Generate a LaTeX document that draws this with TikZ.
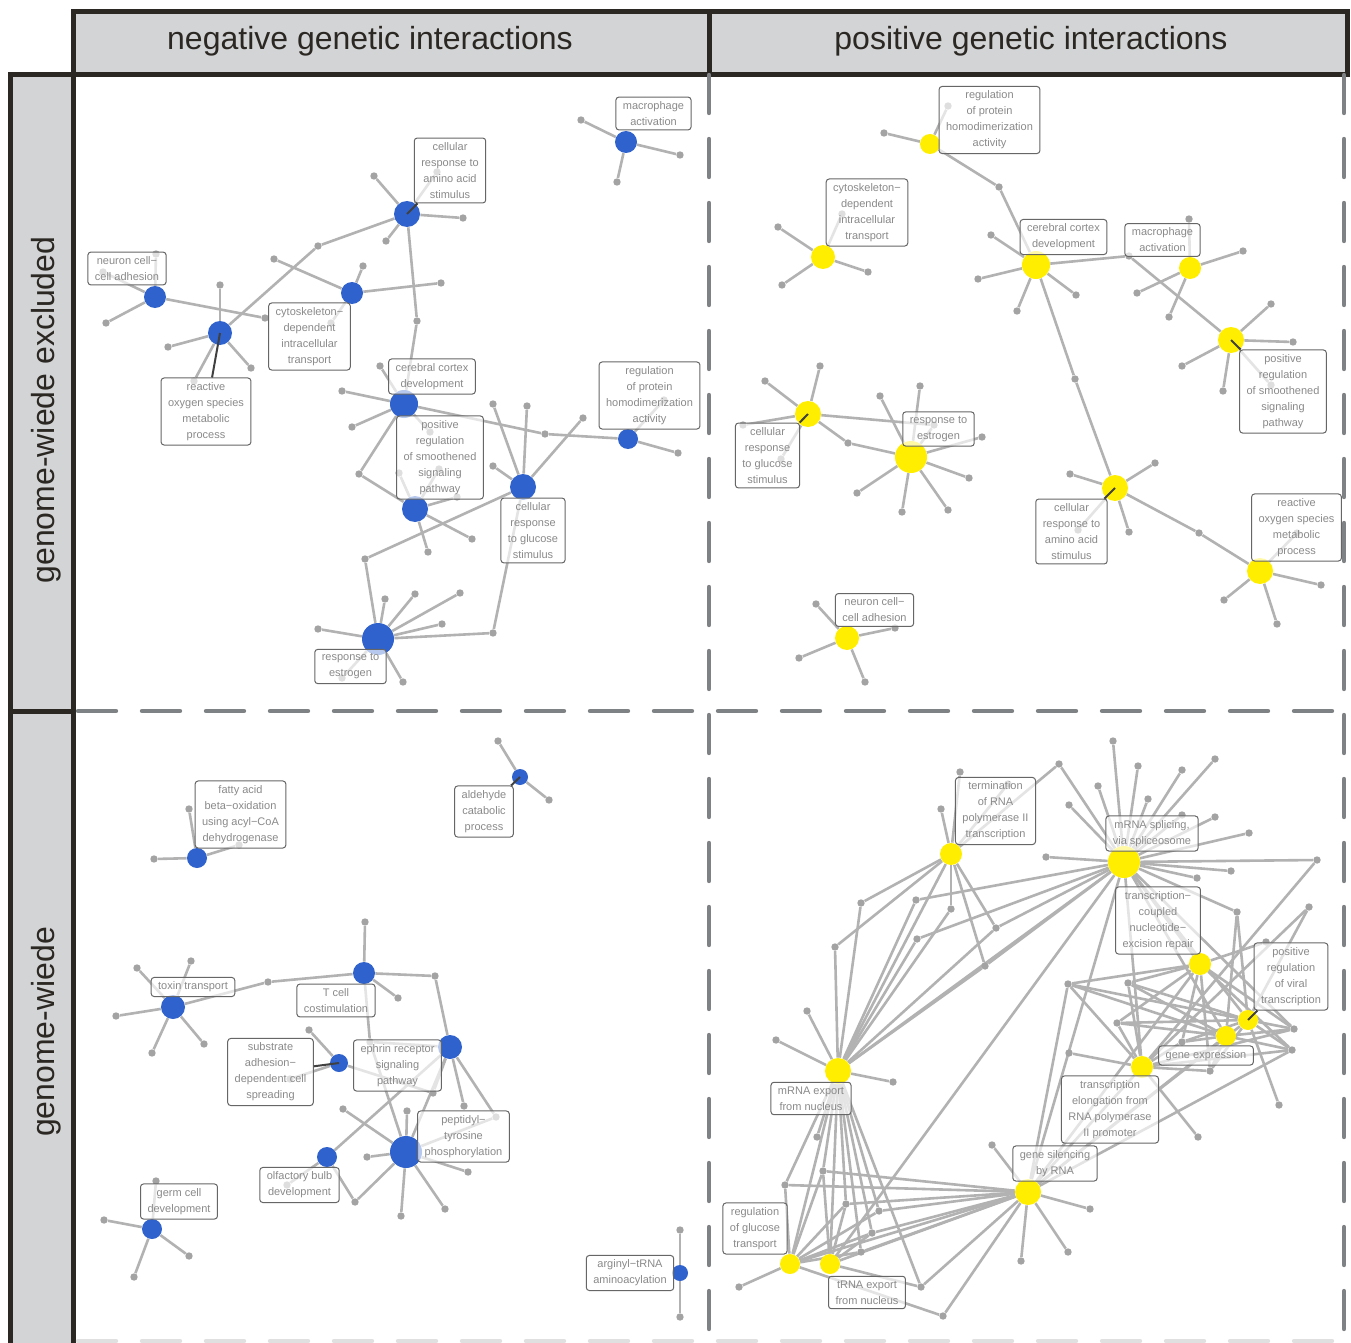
\documentclass[tikz,border=0pt]{standalone}
\usepackage{fontspec}
\setmainfont{Liberation Sans}
\usetikzlibrary{backgrounds}
\definecolor{goBlue}{HTML}{2F62CC}
\definecolor{goYellow}{HTML}{FFEE00}
\definecolor{goDot}{HTML}{A3A3A3}
\definecolor{goEdge}{HTML}{B2B2B2}
\definecolor{goText}{HTML}{8A8A8A}
\definecolor{goFrame}{HTML}{2B2722}
\definecolor{goStrip}{HTML}{D3D4D6}
\definecolor{goDash}{HTML}{7E8285}
\tikzset{
    neg hub/.style={circle, fill=goBlue, inner sep=0pt},
    pos hub/.style={circle, fill=goYellow, inner sep=0pt},
    term dot/.style={circle, fill=goDot, inner sep=0pt, minimum size=3.7pt},
    term edge/.style={draw=goEdge, line width=1.3pt},
    leader/.style={draw=black!75, line width=1pt},
    go label/.style={rectangle, rounded corners=1.5pt, draw=black!60, line width=0.5pt, fill=white, fill opacity=0.65, text opacity=1, text=goText, align=center, font=\fontsize{5.5}{8}\selectfont, inner xsep=3.5pt, inner ysep=2.2pt},
    strip/.style={draw=goFrame, line width=2.5pt, fill=goStrip},
    strip text/.style={text=goFrame, font=\fontsize{16}{18}\selectfont},
    panel dash/.style={draw=goDash, line width=2.2pt, line cap=round, dash pattern=on 19pt off 13pt},
}
% hub with its own end terms
\newcommand\termspokes[2]{%
    \foreach \sx/\sy [count=\si] in {#2} {
        \node[term dot] (#1-\si) at (\sx,\sy) {};
        \begin{scope}[on background layer]
            \draw[term edge] (#1) -- (#1-\si);
        \end{scope}
    }}
% term shared by several hubs
\newcommand\termlinks[2]{%
    \begin{scope}[on background layer]
        \foreach \tn in {#2} \draw[term edge] (#1) -- (\tn);
    \end{scope}}

\begin{document}
\begin{tikzpicture}[x=0.5pt, y=-0.5pt]
    \useasboundingbox (0,0) rectangle (1351,1343);
    \begin{scope}[on background layer]
        \fill[white] (0,0) rectangle (1351,1343);
    \end{scope}

    % strips
    \draw[strip] (73,12) rectangle (709,75);
    \draw[strip] (709,12) rectangle (1347,75);
    \draw[strip] (10,75) rectangle (73,711);
    \draw[strip] (10,711) rectangle (73,1365);
    \node[strip text] (hNeg) at (370,41) {negative genetic interactions};
    \node[strip text] (hPos) at (1031,41) {positive genetic interactions};
    \node[strip text, rotate=90] (hExcl) at (46,410) {genome-wiede excluded};
    \node[strip text, rotate=90] (hAll) at (46,1032) {genome-wiede};

    % panel lines
    \draw[panel dash] (709,75) -- (709,1343);
    \draw[panel dash] (1344,75) -- (1344,1343);
    \draw[panel dash] (78,711) -- (1347,711);
    \draw[panel dash, draw=black!12] (78,1341) -- (1344,1341);

    % ---- negative, genome-wiede excluded ----
    \node[neg hub, minimum size=13pt] (nAmino) at (407,214) {};
    \termspokes{nAmino}{374/176, 463/218, 386/241, 437/172}
    \node[neg hub, minimum size=11pt] (nNeuron) at (155,297) {};
    \termspokes{nNeuron}{106/323, 156/254, 103/272, 265/318}
    \node[neg hub, minimum size=12pt] (nROS) at (220,333) {};
    \termspokes{nROS}{220/285, 168/347, 251/368, 194/381}
    \node[neg hub, minimum size=11pt] (nCyto) at (352,293) {};
    \termspokes{nCyto}{363/266, 441/283, 274/259, 331/323}
    \node[neg hub, minimum size=11pt] (nMacro) at (626,142) {};
    \termspokes{nMacro}{581/120, 680/155, 617/182}
    \node[neg hub, minimum size=14pt] (nCortex) at (404,404) {};
    \termspokes{nCortex}{380/366, 342/391, 352/427, 430/432}
    \node[neg hub, minimum size=13pt] (nSmooth) at (415,509) {};
    \termspokes{nSmooth}{428/552, 472/539, 399/473, 439/469, 457/497}
    \node[neg hub, minimum size=10pt] (nDimer) at (628,439) {};
    \termspokes{nDimer}{678/453, 664/400}
    \node[neg hub, minimum size=13pt] (nGlucose) at (523,487) {};
    \termspokes{nGlucose}{493/404, 527/406, 583/418, 493/466}
    \node[neg hub, minimum size=16pt] (nEstrogen) at (378,639) {};
    \termspokes{nEstrogen}{318/629, 385/599, 415/594, 460/593, 442/624, 403/682, 342/678}
    \node[term dot] (nLink1) at (318,246) {};
    \termlinks{nLink1}{nAmino,nROS}
    \node[term dot] (nLink2) at (417,321) {};
    \termlinks{nLink2}{nAmino,nCortex}
    \node[term dot] (nLink3) at (545,434) {};
    \termlinks{nLink3}{nCortex,nDimer}
    \node[term dot] (nLink4) at (359,474) {};
    \termlinks{nLink4}{nCortex,nSmooth}
    \node[term dot] (nLink5) at (365,559) {};
    \termlinks{nLink5}{nGlucose,nEstrogen}
    \node[term dot] (nLink6) at (493,633) {};
    \termlinks{nLink6}{nGlucose,nEstrogen}

    \node[go label] (nAminoL) at (450,170.5) {cellular\\response to\\amino acid\\stimulus};
    \node[go label] (nNeuronL) at (127,268.5) {neuron cell−\\cell adhesion};
    \node[go label] (nROSL) at (206,411.5) {reactive\\oxygen species\\metabolic\\process};
    \node[go label] (nCytoL) at (309.5,336.5) {cytoskeleton−\\dependent\\intracellular\\transport};
    \node[go label] (nMacroL) at (653.5,113.5) {macrophage\\activation};
    \node[go label] (nCortexL) at (432,376.5) {cerebral cortex\\development};
    \node[go label] (nSmoothL) at (440,457.5) {positive\\regulation\\of smoothened\\signaling\\pathway};
    \node[go label] (nGlucoseL) at (533,530.5) {cellular\\response\\to glucose\\stimulus};
    \node[go label] (nDimerL) at (649.5,395.5) {regulation\\of protein\\homodimerization\\activity};
    \node[go label] (nEstrogenL) at (350.5,666.5) {response to\\estrogen};
    \draw[leader] (nAmino.center) -- (nAminoL);
    \draw[leader] (nROS.center) -- (nROSL);

    % ---- positive, genome-wiede excluded ----
    \node[pos hub, minimum size=10pt] (pDimer) at (930,144) {};
    \termspokes{pDimer}{884/133, 948/106}
    \node[pos hub, minimum size=12pt] (pCyto) at (823,257) {};
    \termspokes{pCyto}{778/227, 782/285, 868/272, 842/214}
    \node[pos hub, minimum size=14pt] (pCortex) at (1036,265) {};
    \termspokes{pCortex}{991/235, 978/279, 1017/311, 1076/295}
    \node[pos hub, minimum size=11pt] (pMacro) at (1190,268) {};
    \termspokes{pMacro}{1189/219, 1243/251, 1137/293, 1169/317}
    \node[pos hub, minimum size=13pt] (pSmooth) at (1231,340) {};
    \termspokes{pSmooth}{1271/304, 1293/342, 1182/366, 1223/391, 1271/385}
    \node[pos hub, minimum size=13pt] (pGlucose) at (808,414) {};
    \termspokes{pGlucose}{820/366, 765/381, 743/425, 781/459}
    \node[pos hub, minimum size=16pt] (pEstrogen) at (911,457) {};
    \termspokes{pEstrogen}{880/396, 920/386, 982/437, 969/478, 948/510, 902/512, 857/493}
    \node[pos hub, minimum size=13pt] (pAmino) at (1115,488) {};
    \termspokes{pAmino}{1070/474, 1155/463, 1129/532, 1078/530}
    \node[pos hub, minimum size=13pt] (pROS) at (1260,571) {};
    \termspokes{pROS}{1321/585, 1277/624, 1224/600, 1297/533}
    \node[pos hub, minimum size=12pt] (pNeuron) at (847,638) {};
    \termspokes{pNeuron}{816/604, 799/658, 865/682, 895/628}
    \node[term dot] (pLink1) at (999,187) {};
    \termlinks{pLink1}{pDimer,pCortex}
    \node[term dot] (pLink2) at (1129,256) {};
    \termlinks{pLink2}{pCortex,pSmooth}
    \node[term dot] (pLink3) at (1075,379) {};
    \termlinks{pLink3}{pCortex,pAmino}
    \node[term dot] (pLink4) at (934,425) {};
    \termlinks{pLink4}{pGlucose,pEstrogen}
    \node[term dot] (pLink5) at (848,443) {};
    \termlinks{pLink5}{pGlucose,pEstrogen}
    \node[term dot] (pLink6) at (1199,533) {};
    \termlinks{pLink6}{pAmino,pROS}

    \node[go label] (pDimerL) at (989.5,120) {regulation\\of protein\\homodimerization\\activity};
    \node[go label] (pCytoL) at (867,212.5) {cytoskeleton−\\dependent\\intracellular\\transport};
    \node[go label] (pCortexL) at (1063.5,237) {cerebral cortex\\development};
    \node[go label] (pMacroL) at (1162.5,240) {macrophage\\activation};
    \node[go label] (pSmoothL) at (1283,391.5) {positive\\regulation\\of smoothened\\signaling\\pathway};
    \node[go label] (pGlucoseL) at (767.5,455.5) {cellular\\response\\to glucose\\stimulus};
    \node[go label] (pEstrogenL) at (938.5,429) {response to\\estrogen};
    \node[go label] (pAminoL) at (1071.5,531.5) {cellular\\response to\\amino acid\\stimulus};
    \node[go label] (pROSL) at (1296.5,527.5) {reactive\\oxygen species\\metabolic\\process};
    \node[go label] (pNeuronL) at (874.5,610) {neuron cell−\\cell adhesion};
    \draw[leader] (pSmooth.center) -- (pSmoothL);
    \draw[leader] (pGlucose.center) -- (pGlucoseL);
    \draw[leader] (pAmino.center) -- (pAminoL);

    % ---- negative, genome-wiede ----
    \node[neg hub, minimum size=10pt] (wnFatty) at (197,858) {};
    \termspokes{wnFatty}{154/859, 189/809, 239/845}
    \node[neg hub, minimum size=8pt] (wnAldehyde) at (520,777) {};
    \termspokes{wnAldehyde}{498/741, 549/800}
    \node[neg hub, minimum size=12pt] (wnToxin) at (173,1007) {};
    \termspokes{wnToxin}{137/968, 191/961, 116/1016, 204/1044, 152/1053}
    \node[neg hub, minimum size=11pt] (wnTcell) at (364,973) {};
    \termspokes{wnTcell}{365/922, 398/998}
    \node[neg hub, minimum size=12pt] (wnEphrin) at (450,1047) {};
    \termspokes{wnEphrin}{464/1106}
    \node[neg hub, minimum size=9pt] (wnSubstrate) at (339,1063) {};
    \termspokes{wnSubstrate}{309/1030, 290/1079}
    \node[neg hub, minimum size=16pt] (wnPeptidyl) at (406,1152) {};
    \termspokes{wnPeptidyl}{343/1109, 367/1157, 407/1111, 401/1216, 445/1209, 468/1172}
    \node[neg hub, minimum size=10pt] (wnOlfactory) at (327,1157) {};
    \termspokes{wnOlfactory}{287/1185}
    \node[neg hub, minimum size=10pt] (wnGerm) at (152,1229) {};
    \termspokes{wnGerm}{104/1220, 134/1277, 189/1256, 156/1181}
    \node[neg hub, minimum size=8pt] (wnArginyl) at (680,1273) {};
    \termspokes{wnArginyl}{680/1230, 680/1317}
    \node[term dot] (wnLink1) at (268,982) {};
    \termlinks{wnLink1}{wnToxin,wnTcell}
    \node[term dot] (wnLink2) at (435,976) {};
    \termlinks{wnLink2}{wnTcell,wnEphrin}
    \node[term dot] (wnLink3) at (370,1042) {};
    \termlinks{wnLink3}{wnTcell,wnEphrin,wnPeptidyl}
    \node[term dot] (wnLink4) at (433,1093) {};
    \termlinks{wnLink4}{wnSubstrate,wnEphrin}
    \node[term dot] (wnLink5) at (496,1117) {};
    \termlinks{wnLink5}{wnEphrin,wnPeptidyl}
    \node[term dot] (wnLink6) at (355,1202) {};
    \termlinks{wnLink6}{wnOlfactory,wnPeptidyl}
    \termlinks{wnEphrin}{wnOlfactory,wnPeptidyl}

    \node[go label] (wnFattyL) at (240.5,814.5) {fatty acid\\beta−oxidation\\using acyl−CoA\\dehydrogenase};
    \node[go label] (wnAldehydeL) at (484,811.5) {aldehyde\\catabolic\\process};
    \node[go label] (wnToxinL) at (193,987) {toxin transport};
    \node[go label] (wnTcellL) at (336,1000.5) {T cell\\costimulation};
    \node[go label] (wnSubstrateL) at (270.5,1072) {substrate\\adhesion−\\dependent cell\\spreading};
    \node[go label] (wnEphrinL) at (397.5,1065.5) {ephrin receptor\\signaling\\pathway};
    \node[go label] (wnPeptidylL) at (463.5,1136.5) {peptidyl−\\tyrosine\\phosphorylation};
    \node[go label] (wnOlfactoryL) at (299.5,1185) {olfactory bulb\\development};
    \node[go label] (wnGermL) at (179,1201.5) {germ cell\\development};
    \node[go label] (wnArginylL) at (630,1273) {arginyl−tRNA\\aminoacylation};
    \draw[leader] (wnAldehyde.center) -- (wnAldehydeL);
    \draw[leader] (wnSubstrate.center) -- (wnSubstrateL);

    % ---- positive, genome-wiede ----
    \node[pos hub, minimum size=11pt] (wpTerm) at (951,854) {};
    \termspokes{wpTerm}{941/809, 960/772, 1008/784}
    \node[pos hub, minimum size=16pt] (wpSplice) at (1124,862) {};
    \termspokes{wpSplice}{1113/741, 1138/766, 1098/786, 1148/799, 1182/770, 1215/759, 1182/815, 1215/817, 1249/833, 1231/871, 1197/878, 1046/857, 1069/805}
    \node[pos hub, minimum size=11pt] (wpNER) at (1200,964) {};
    \termspokes{wpNER}{1266/942}
    \node[pos hub, minimum size=10pt] (wpViral) at (1248,1020) {};
    \termspokes{wpViral}{1279/1105}
    \node[pos hub, minimum size=10pt] (wpExpr) at (1226,1036) {};
    \node[pos hub, minimum size=11pt] (wpElong) at (1142,1067) {};
    \termspokes{wpElong}{1069/1053, 1198/1137}
    \node[pos hub, minimum size=13pt] (wpSilence) at (1028,1192) {};
    \termspokes{wpSilence}{992/1145, 1090/1209, 1068/1252, 1021/1261}
    \node[pos hub, minimum size=13pt] (wpExport) at (838,1071) {};
    \termspokes{wpExport}{807/1011, 776/1040, 893/1082, 817/1137}
    \node[pos hub, minimum size=10pt] (wpGlucose) at (790,1264) {};
    \termspokes{wpGlucose}{739/1287}
    \node[pos hub, minimum size=10pt] (wptRNA) at (830,1264) {};

    \node[term dot] (wpA1) at (1059,764) {};
    \termlinks{wpA1}{wpSplice,wpTerm}
    \node[term dot] (wpA2) at (861,903) {};
    \termlinks{wpA2}{wpTerm,wpExport}
    \node[term dot] (wpA3) at (835,947) {};
    \termlinks{wpA3}{wpTerm,wpExport}
    \node[term dot] (wpA4) at (916,900) {};
    \termlinks{wpA4}{wpSplice,wpExport}
    \node[term dot] (wpA5) at (951,909) {};
    \termlinks{wpA5}{wpTerm,wpExport}
    \node[term dot] (wpA6) at (917,939) {};
    \termlinks{wpA6}{wpSplice,wpExport}
    \node[term dot] (wpA7) at (996,928) {};
    \termlinks{wpA7}{wpTerm,wpSplice,wpExport}
    \node[term dot] (wpA8) at (985,966) {};
    \termlinks{wpA8}{wpTerm,wpSplice,wpExport}
    \termlinks{wpExport}{wpSplice,wpTerm,wpGlucose,wptRNA}

    \node[term dot] (wpB1) at (785,1185) {};
    \termlinks{wpB1}{wpExport,wpSilence,wpGlucose}
    \node[term dot] (wpB2) at (823,1171) {};
    \termlinks{wpB2}{wpExport,wpSilence,wpGlucose,wptRNA}
    \node[term dot] (wpB3) at (846,1204) {};
    \termlinks{wpB3}{wpExport,wpSilence,wpGlucose,wptRNA}
    \node[term dot] (wpB4) at (879,1211) {};
    \termlinks{wpB4}{wpExport,wpSilence,wpGlucose}
    \node[term dot] (wpB5) at (872,1233) {};
    \termlinks{wpB5}{wpExport,wpSilence,wpGlucose,wptRNA}
    \node[term dot] (wpB6) at (861,1252) {};
    \termlinks{wpB6}{wpExport,wpSilence,wpGlucose}
    \node[term dot] (wpB7) at (921,1287) {};
    \termlinks{wpB7}{wpExport,wpSilence,wptRNA}
    \node[term dot] (wpB8) at (943,1316) {};
    \termlinks{wpB8}{wpSilence,wpGlucose}
    \termlinks{wpSilence}{wpGlucose,wptRNA}

    \node[term dot] (wpC1) at (1068,984) {};
    \termlinks{wpC1}{wpNER,wpViral,wpExpr,wpElong,wpSilence}
    \node[term dot] (wpC2) at (1128,983) {};
    \termlinks{wpC2}{wpNER,wpViral,wpExpr,wpElong}
    \node[term dot] (wpC3) at (1117,1023) {};
    \termlinks{wpC3}{wpNER,wpViral,wpExpr,wpElong}
    \node[term dot] (wpC4) at (1237,912) {};
    \termlinks{wpC4}{wpSplice,wpViral,wpExpr}
    \node[term dot] (wpC5) at (1309,907) {};
    \termlinks{wpC5}{wpElong,wpViral}
    \node[term dot] (wpC6) at (1294,1029) {};
    \termlinks{wpC6}{wpNER,wpViral,wpExpr,wpElong,wpSplice}
    \node[term dot] (wpC7) at (1292,1050) {};
    \termlinks{wpC7}{wpNER,wpViral,wpExpr,wpElong,wpSilence}
    \node[term dot] (wpC8) at (1182,1042) {};
    \termlinks{wpC8}{wpNER,wpViral,wpExpr,wpElong}
    \node[term dot] (wpC9) at (1210,1071) {};
    \termlinks{wpC9}{wpNER,wpViral,wpExpr,wpElong}
    \node[term dot] (wpC10) at (1317,860) {};
    \termlinks{wpC10}{wpSplice,wpElong}
    \termlinks{wpSplice}{wpNER,wpViral,wpExpr,wpElong,wpSilence,wptRNA}
    \termlinks{wpSilence}{wpElong,wpExpr,wpViral,wpNER}

    \node[go label] (wpTermL) at (995.5,811) {termination\\of RNA\\polymerase II\\transcription};
    \node[go label] (wpSpliceL) at (1152,833.5) {mRNA splicing,\\via spliceosome};
    \node[go label] (wpNERL) at (1158,920.5) {transcription−\\coupled\\nucleotide−\\excision repair};
    \node[go label] (wpViralL) at (1291,976.5) {positive\\regulation\\of viral\\transcription};
    \node[go label] (wpExprL) at (1206,1055.5) {gene expression};
    \node[go label] (wpElongL) at (1110,1109.5) {transcription\\elongation from\\RNA polymerase\\II promoter};
    \node[go label] (wpSilenceL) at (1055,1163.5) {gene silencing\\by RNA};
    \node[go label] (wpExportL) at (811,1098.5) {mRNA export\\from nucleus};
    \node[go label] (wpGlucoseL) at (755,1228.5) {regulation\\of glucose\\transport};
    \node[go label] (wptRNAL) at (867,1292.5) {tRNA export\\from nucleus};
    \draw[leader] (wpViral.center) -- (wpViralL);
\end{tikzpicture}
\end{document}
